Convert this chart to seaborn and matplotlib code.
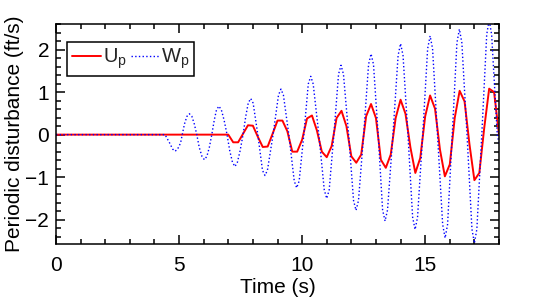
import numpy as np
import pandas as pd
import seaborn as sns
import matplotlib
matplotlib.use("Agg")
import matplotlib.pyplot as plt
from matplotlib.ticker import MultipleLocator

# Up (red, solid) - sampled every 0.2 s once the disturbance begins
t_up = [0.0, 7.0, 7.2, 7.4, 7.6, 7.8, 8.0, 8.2, 8.4, 8.6, 8.8, 9.0, 9.2, 9.4,
        9.6, 9.8, 10.0, 10.2, 10.4, 10.6, 10.8, 11.0, 11.2, 11.4, 11.6, 11.8,
        12.0, 12.2, 12.4, 12.6, 12.8, 13.0, 13.2, 13.4, 13.6, 13.8, 14.0,
        14.2, 14.4, 14.6, 14.8, 15.0, 15.2, 15.4, 15.6, 15.8, 16.0, 16.2,
        16.4, 16.6, 16.8, 17.0, 17.2, 17.4, 17.6, 17.8, 18.0]
up = [0.0, 0.0, -0.18, -0.18, 0.02, 0.22, 0.21, -0.05, -0.29, -0.28, 0.02,
      0.33, 0.33, 0.08, -0.40, -0.40, -0.12, 0.38, 0.45, 0.10, -0.40, -0.53,
      -0.27, 0.39, 0.56, 0.20, -0.51, -0.66, -0.47, 0.43, 0.72, 0.39, -0.59,
      -0.78, -0.47, 0.39, 0.82, 0.49, -0.30, -0.90, -0.55, 0.43, 0.92, 0.61,
      -0.35, -0.98, -0.70, 0.39, 1.03, 0.78, -0.23, -1.07, -0.90, 0.16, 1.08,
      1.00, 0.0]

# Wp (blue, dotted)
t_wp = [0.0, 4.43, 4.62, 4.74, 4.84, 4.94, 5.06, 5.13, 5.22, 5.32, 5.42, 5.52,
        5.62, 5.72, 5.82, 5.93, 6.03, 6.13, 6.23, 6.33, 6.43, 6.52, 6.62, 6.72,
        6.83, 6.95, 7.06, 7.17, 7.27, 7.37, 7.48, 7.60, 7.71, 7.81, 7.91,
        8.01, 8.20, 8.39, 8.49, 8.59, 8.82, 9.04, 9.14, 9.24, 9.46, 9.68, 9.78,
        9.88, 10.07, 10.25, 10.35, 10.45, 10.68, 10.90, 11.00, 11.10, 11.29,
        11.48, 11.58, 11.68, 11.89, 12.09, 12.19, 12.29, 12.50, 12.70, 12.80,
        12.90, 13.09, 13.27, 13.37, 13.47, 13.69, 13.90, 14.00, 14.10, 14.30,
        14.49, 14.59, 14.69, 14.90, 15.10, 15.20, 15.30, 15.50, 15.71, 15.81,
        15.91, 16.10, 16.29, 16.39, 16.49, 16.70, 16.90, 17.00, 17.10, 17.30,
        17.50, 17.60, 17.70, 17.93, 18.00]
wp = [0.0, 0.0, -0.20, -0.34, -0.39, -0.34, -0.20, 0.0, 0.25, 0.43, 0.49, 0.43,
      0.25, 0.0, -0.30, -0.51, -0.59, -0.51, -0.30, 0.0, 0.34, 0.58, 0.67, 0.58,
      0.34, 0.0, -0.38, -0.65, -0.75, -0.65, -0.38, 0.0, 0.43, 0.74, 0.85,
      0.74, 0.0, -0.84, -0.96, -0.84, 0.0, 0.93, 1.07, 0.93, 0.0, -1.09, -1.25,
      -1.09, 0.0, 1.19, 1.37, 1.19, 0.0, -1.30, -1.50, -1.30, 0.0,
      1.42, 1.63, 1.42, 0.0, -1.55, -1.78, -1.55, 0.0, 1.65, 1.90,
      1.65, 0.0, -1.77, -2.03, -1.77, 0.0, 1.86, 2.14, 1.86, 0.0,
      -1.94, -2.23, -1.94, 0.0, 2.02, 2.32, 2.02, 0.0, -2.11, -2.43,
      -2.11, 0.0, 2.16, 2.48, 2.16, 0.0, -2.22, -2.55, -2.22, 0.0,
      2.35, 2.70, 2.35, 0.0, -0.20]

sns.set_theme(style='ticks')
plt.rcParams['font.family'] = ['Liberation Sans', 'DejaVu Sans']
plt.rcParams['mathtext.default'] = 'regular'

fig = plt.figure(figsize=(5.4, 3.0), dpi=100)
ax = fig.add_axes([0.1037, 0.1867, 0.8204, 0.7333])

sns.lineplot(x=t_up, y=up, ax=ax, color='#ff0000', linewidth=1.4,
             sort=False, estimator=None, label='U$_p$')
sns.lineplot(x=t_wp, y=wp, ax=ax, color='#0000ff', linewidth=1.0,
             linestyle=':', sort=False, estimator=None, label='W$_p$')

ax.set_xlim(0, 18)
ax.set_ylim(-2.57, 2.6)
ax.xaxis.set_major_locator(MultipleLocator(5))
ax.xaxis.set_minor_locator(MultipleLocator(1))
ax.yaxis.set_major_locator(MultipleLocator(1))
ax.yaxis.set_minor_locator(MultipleLocator(0.2))
ax.tick_params(which='both', direction='in', top=True, right=True,
               colors='black', labelsize=15, width=1.1)
ax.tick_params(which='major', length=6.5)
ax.tick_params(axis='x', which='major', pad=8.5)
ax.tick_params(axis='y', which='major', pad=5)
ax.tick_params(which='minor', length=3.5)
for s in ax.spines.values():
    s.set_linewidth(1.1)
    s.set_color('black')

ax.set_xlabel('Time (s)', fontsize=15, color='black', labelpad=2)
ax.set_ylabel('Periodic disturbance (ft/s)', fontsize=15, color='black', labelpad=1)

leg = ax.legend(loc='upper left', bbox_to_anchor=(0.0255, 0.92), ncol=2,
                fontsize=14.5, frameon=True, fancybox=False,
                edgecolor='black', framealpha=1, borderaxespad=0,
                handlelength=1.4, handletextpad=0.1, columnspacing=0.2,
                borderpad=0.25)
leg.get_frame().set_linewidth(1.1)

fig.savefig('out.png', dpi=100)
